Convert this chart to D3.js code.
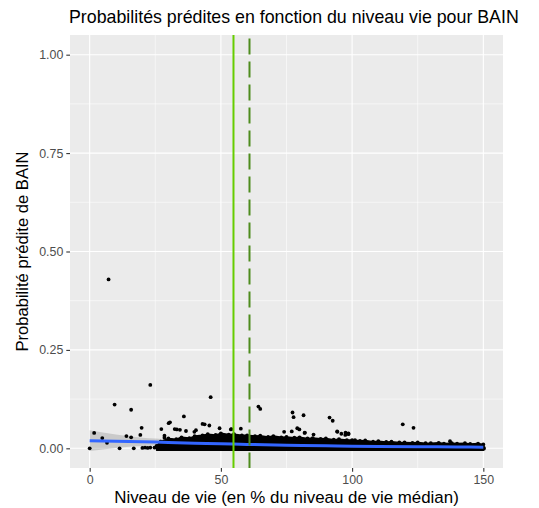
<!DOCTYPE html>
<html>
<head>
<meta charset="utf-8">
<script src="https://cdn.jsdelivr.net/npm/d3@7"></script>
<style>
  html, body { margin: 0; padding: 0; background: #ffffff; }
  svg { display: block; }
  text { font-family: "Liberation Sans", Arial, Helvetica, sans-serif; }
</style>
</head>
<body>
<svg id="chart" width="539" height="508"></svg>
<script>
// Scattered individual predictions (niveau de vie %, probabilité prédite)
const pointsX = [0, 1.7, 4.8, 6.6, 7.2, 9.5, 11.4, 14, 15.8, 15.8, 16.8, 19.3, 19.8, 20.1, 21.1, 22.1, 23.1, 23.1, 24.7, 25.6, 26.6,
  27.3, 28.5, 28.5, 30.1, 30.6, 32.4, 33.2, 34.4, 35.9, 36.7, 39.9, 40.5, 43, 43.8, 45.6, 46.1, 49.5, 53.8, 54, 57.6,
  64.3, 65, 74.1, 77, 77.3, 77.7, 79.1, 79.9, 81.5, 81.9, 82, 85.3, 91.4, 92.6, 94.3, 94.4, 95.9, 97.4, 97.5, 98.6, 98.6,
  101.1, 119.3, 123.4, 137.3];
const pointsY = [0, 0.039, 0.026, 0.014, 0.429, 0.111, 0, 0.031, 0.098, 0.028, 0, 0.034, 0.052, 0.001, 0.002, 0.001, 0.161, 0.002, 0.002, 0.002, 0.003,
  0.049, 0.027, 0.032, 0.064, 0.066, 0.049, 0.048, 0.047, 0.081, 0.044, 0.042, 0.046, 0.062, 0.061, 0.058, 0.130, 0.051, 0.048, 0.049, 0.050,
  0.106, 0.100, 0.042, 0.043, 0.091, 0.079, 0.051, 0.048, 0.084, 0.039, 0.040, 0.035, 0.078, 0.070, 0.043, 0.042, 0.037, 0.034, 0.040, 0.036, 0.038,
  0.021, 0.061, 0.052, 0.018];

// Upper edge of the dense cloud of predictions (lower edge sits at 0)
const cloudX =   [25.5, 27, 30, 33, 35, 38, 40, 43, 45, 48, 50, 53, 55, 58, 60, 63, 65, 68, 70, 73, 75, 78, 80, 83, 85, 88, 90, 93, 95, 98, 100, 103, 105, 108, 110, 113, 115, 118, 120, 123, 125, 128, 130, 133, 135, 138, 140, 143, 145, 148, 150];
const cloudTop = [0.006, 0.017, 0.025, 0.023, 0.028, 0.026, 0.031, 0.033, 0.036, 0.034, 0.038, 0.035, 0.036, 0.033, 0.033, 0.031, 0.032, 0.029, 0.031, 0.028, 0.029, 0.027, 0.028, 0.025, 0.026, 0.024, 0.025, 0.022, 0.023, 0.021, 0.021, 0.019, 0.020, 0.017, 0.018, 0.016, 0.017, 0.015, 0.015, 0.014, 0.015, 0.013, 0.013, 0.014, 0.012, 0.013, 0.012, 0.013, 0.011, 0.012, 0.010];

// Smoothed fit with its confidence band
const smoothX =   [0, 10, 20, 25, 30, 40, 50, 60, 75, 90, 100, 110, 125, 140, 150];
const smoothFit = [0.0195, 0.018, 0.0165, 0.016, 0.015, 0.013, 0.0115, 0.010, 0.008, 0.0065, 0.0055, 0.0048, 0.004, 0.0034, 0.003];
const smoothLo =  [-0.007, 0.001, 0.006, 0.007, 0.008, 0.008, 0.008, 0.0075, 0.006, 0.0048, 0.004, 0.0034, 0.0027, 0.0021, 0.0017];
const smoothHi =  [0.046, 0.035, 0.027, 0.025, 0.022, 0.018, 0.015, 0.0125, 0.010, 0.0082, 0.007, 0.0062, 0.0053, 0.0047, 0.0043];

// Reference thresholds on the x axis
const seuilPlein = 54.8;
const seuilTirets = 60.9;

const xTicks = [0, 50, 100, 150];
const xTickLabels = ["0", "50", "100", "150"];
const xMinor = [25, 75, 125];
const yTicks = [0, 0.25, 0.5, 0.75, 1];
const yTickLabels = ["0.00", "0.25", "0.50", "0.75", "1.00"];
const yMinor = [0.125, 0.375, 0.625, 0.875];

const titre = "Probabilités prédites en fonction du niveau vie pour BAIN";
const titreX = "Niveau de vie (en % du niveau de vie médian)";
const titreY = "Probabilité prédite de BAIN";

const panel = { left: 70, right: 503, top: 35, bottom: 468 };
const svg = d3.select("#chart");

const x = d3.scaleLinear().domain([-7.5, 157.5]).range([panel.left, panel.right]);
const y = d3.scaleLinear().domain([-0.05, 1.05]).range([panel.bottom, panel.top]);

// Panel background and grid
svg.append("rect")
  .attr("x", panel.left).attr("y", panel.top)
  .attr("width", panel.right - panel.left).attr("height", panel.bottom - panel.top)
  .attr("fill", "#EBEBEB");

const grid = svg.append("g");
grid.selectAll(".xmin").data(xMinor).join("line")
  .attr("x1", d => x(d)).attr("x2", d => x(d))
  .attr("y1", panel.top).attr("y2", panel.bottom)
  .attr("stroke", "#ffffff").attr("stroke-width", 0.55);
grid.selectAll(".ymin").data(yMinor).join("line")
  .attr("y1", d => y(d)).attr("y2", d => y(d))
  .attr("x1", panel.left).attr("x2", panel.right)
  .attr("stroke", "#ffffff").attr("stroke-width", 0.55);
grid.selectAll(".xmaj").data(xTicks).join("line")
  .attr("x1", d => x(d)).attr("x2", d => x(d))
  .attr("y1", panel.top).attr("y2", panel.bottom)
  .attr("stroke", "#ffffff").attr("stroke-width", 1.1);
grid.selectAll(".ymaj").data(yTicks).join("line")
  .attr("y1", d => y(d)).attr("y2", d => y(d))
  .attr("x1", panel.left).attr("x2", panel.right)
  .attr("stroke", "#ffffff").attr("stroke-width", 1.1);

// Confidence band
const band = smoothX.map((d, i) => ({ x: d, lo: smoothLo[i], hi: smoothHi[i], fit: smoothFit[i] }));
svg.append("path")
  .datum(band)
  .attr("d", d3.area().x(d => x(d.x)).y0(d => y(d.lo)).y1(d => y(d.hi)).curve(d3.curveMonotoneX))
  .attr("fill", "#999999").attr("fill-opacity", 0.4);

// Dense cloud of predictions
const pr = 1.9;
const cloud = cloudX.map((d, i) => ({ x: d, top: cloudTop[i] }));
svg.append("path")
  .datum(cloud)
  .attr("d", d3.area().x(d => x(d.x)).y0(y(0) + pr).y1(d => y(d.top)))
  .attr("fill", "#000000").attr("stroke", "#000000").attr("stroke-width", 1.5)
  .attr("stroke-linejoin", "round");
svg.append("g").selectAll("circle").data(cloud).join("circle")
  .attr("cx", d => x(d.x)).attr("cy", d => y(d.top)).attr("r", pr).attr("fill", "#000000");
svg.append("circle")
  .attr("cx", x(cloudX[cloudX.length - 1])).attr("cy", y(0)).attr("r", pr + 0.6).attr("fill", "#000000");

// Individual points
const pts = pointsX.map((d, i) => ({ x: d, y: pointsY[i] }));
svg.append("g").selectAll("circle").data(pts).join("circle")
  .attr("cx", d => x(d.x)).attr("cy", d => y(d.y)).attr("r", pr).attr("fill", "#000000");

// Smoothed fit line
svg.append("path")
  .datum(band)
  .attr("d", d3.line().x(d => x(d.x)).y(d => y(d.fit)).curve(d3.curveMonotoneX))
  .attr("fill", "none").attr("stroke", "#3366FF").attr("stroke-width", 3);

// Vertical thresholds
svg.append("line")
  .attr("x1", x(seuilPlein)).attr("x2", x(seuilPlein))
  .attr("y1", panel.top).attr("y2", panel.bottom)
  .attr("stroke", "#66CD00").attr("stroke-width", 2);
svg.append("line")
  .attr("x1", x(seuilTirets)).attr("x2", x(seuilTirets))
  .attr("y1", panel.top).attr("y2", panel.bottom)
  .attr("stroke", "#4E8C1E").attr("stroke-width", 2)
  .attr("stroke-dasharray", "16,7").attr("stroke-dashoffset", 19.6);

// Axes
const xAxis = svg.append("g")
  .attr("transform", `translate(0,${panel.bottom})`)
  .call(d3.axisBottom(x).tickValues(xTicks).tickFormat((d, i) => xTickLabels[i]).tickSize(3.7).tickPadding(3));
const yAxis = svg.append("g")
  .attr("transform", `translate(${panel.left},0)`)
  .call(d3.axisLeft(y).tickValues(yTicks).tickFormat((d, i) => yTickLabels[i]).tickSize(3.7).tickPadding(3));
[xAxis, yAxis].forEach(g => {
  g.select(".domain").remove();
  g.selectAll(".tick line").attr("stroke", "#333333").attr("stroke-width", 1.1);
  g.selectAll(".tick text").attr("fill", "#4D4D4D").style("font-size", "12.4px")
    .style("font-family", "'Liberation Sans', Arial, Helvetica, sans-serif");
});

// Titles
svg.append("text")
  .attr("x", panel.left - 1).attr("y", 22.5)
  .attr("fill", "#000000").style("font-size", "17.8px")
  .text(titre);
svg.append("text")
  .attr("x", (panel.left + panel.right) / 2).attr("y", 503)
  .attr("text-anchor", "middle").attr("fill", "#000000").style("font-size", "16.9px")
  .text(titreX);
svg.append("text")
  .attr("transform", `translate(28,${(panel.top + panel.bottom) / 2}) rotate(-90)`)
  .attr("text-anchor", "middle").attr("fill", "#000000").style("font-size", "16.6px")
  .text(titreY);
</script>
</body>
</html>
